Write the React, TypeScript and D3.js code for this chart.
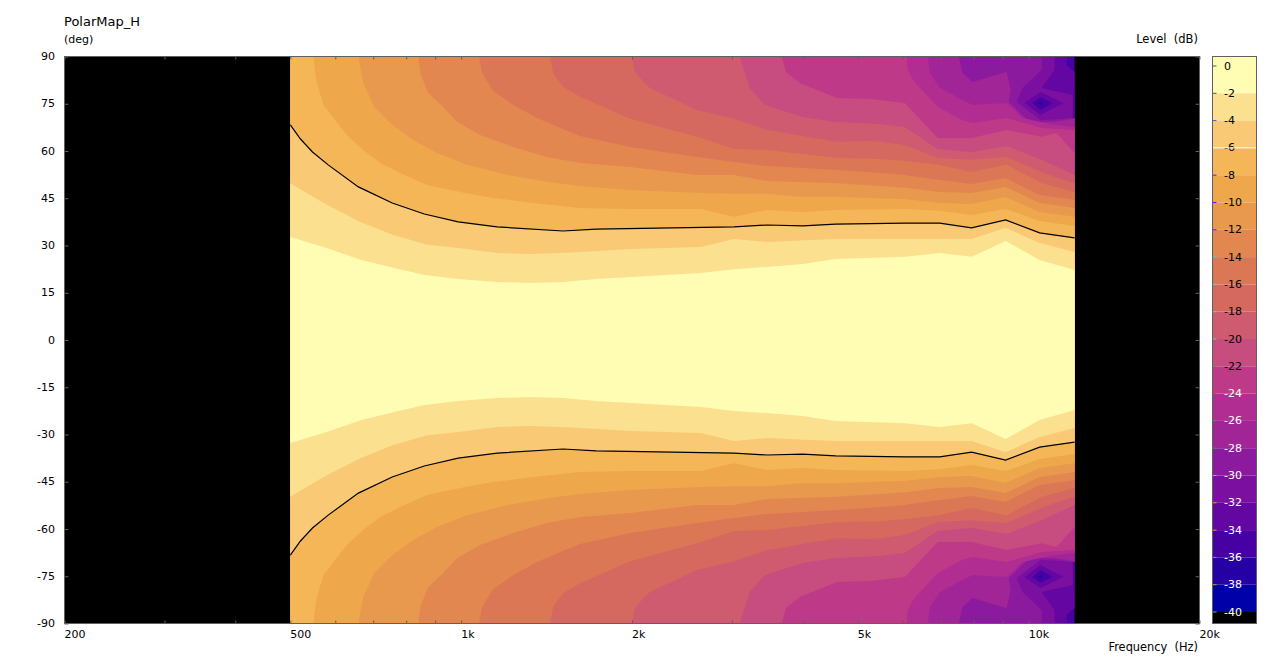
import { useEffect, useRef } from "react";
import * as d3 from "d3";

type Pt = [number, number];

// frequency (Hz), angle (deg) along each level line; the map is mirrored around 0 deg
const contour2: Pt[] = [[500, 32.7], [579, 29.2], [667, 25.4], [750, 23.2], [861, 20.6], [988, 19.4], [1157, 18.4], [1323, 18.1], [1512, 18.4], [1729, 19.4], [2000, 20.0], [2645, 21.3], [3024, 22.5], [3456, 23.2], [3999, 24.1], [4570, 25.7], [6048, 26.4], [6969, 27.6], [7934, 26.4], [9107, 31.4], [10453, 25.4], [12047, 22.2]];
const contour4: Pt[] = [[500, 49.8], [572, 43.5], [664, 37.5], [759, 33.3], [871, 30.2], [988, 29.2], [1157, 27.6], [1323, 27.3], [1512, 27.6], [2000, 28.9], [2645, 29.5], [3024, 32.1], [3456, 31.1], [4570, 32.1], [6048, 32.1], [6969, 32.1], [7934, 32.1], [9107, 35.6], [10453, 30.8], [12047, 27.9]];
const contour6: Pt[] = [[500, 68.3], [521, 63.8], [547, 59.7], [583, 55.6], [659, 48.6], [756, 43.5], [861, 40.0], [988, 37.5], [1157, 35.9], [1512, 34.6], [1729, 35.2], [3024, 35.9], [3456, 36.5], [3999, 36.2], [4570, 36.8], [6048, 37.1], [6969, 37.1], [7934, 35.6], [9107, 38.1], [10453, 34.0], [12047, 32.4]];
const contour8: Pt[] = [[549, 90], [555, 82.6], [572, 74.6], [605, 68.9], [633, 64.5], [672, 60.3], [720, 56.2], [781, 53.0], [871, 49.2], [996, 47.0], [1139, 45.1], [1339, 43.5], [1620, 41.9], [1984, 41.6], [2645, 41.6], [3024, 39.1], [3456, 41.3], [3999, 40.6], [4570, 41.3], [6048, 41.6], [6969, 41.0], [7934, 39.7], [9107, 41.6], [10453, 37.8], [12047, 36.2]];
const contour10: Pt[] = [[659, 90], [672, 81.6], [703, 74.0], [750, 68.9], [823, 63.5], [907, 59.4], [1025, 55.6], [1205, 52.4], [1416, 50.2], [1620, 48.9], [1984, 47.6], [2645, 46.7], [3024, 46.4], [3456, 46.4], [3999, 45.4], [4570, 45.4], [6048, 44.8], [6969, 43.5], [7934, 43.2], [9107, 45.4], [10453, 40.6], [12047, 39.1]];
const contour12: Pt[] = [[840, 90], [847, 84.8], [875, 78.4], [930, 74.0], [984, 69.2], [1080, 65.1], [1235, 61.3], [1416, 58.1], [1620, 56.2], [1984, 54.9], [2603, 52.4], [3024, 52.4], [3456, 50.5], [4590, 49.8], [5464, 48.9], [6048, 48.3], [6969, 47.0], [7934, 46.7], [9107, 48.6], [10453, 43.5], [12047, 41.9]];
const contour14: Pt[] = [[1075, 90], [1089, 84.8], [1134, 79.4], [1235, 74.6], [1360, 70.5], [1494, 67.3], [1620, 64.8], [1984, 61.3], [2603, 58.1], [3024, 56.5], [3456, 55.2], [4590, 54.0], [5464, 53.0], [6048, 52.4], [6969, 50.8], [7934, 49.5], [9107, 51.4], [9840, 48.3], [10453, 46.0], [12047, 44.5]];
const contour16: Pt[] = [[1434, 90], [1452, 84.8], [1512, 80.3], [1620, 77.2], [1984, 70.2], [2603, 64.5], [3024, 60.6], [3456, 60.3], [4590, 57.8], [5464, 57.5], [6048, 56.8], [6913, 55.6], [7934, 53.3], [9143, 55.6], [10540, 49.8], [12047, 47.0]];
const contour18: Pt[] = [[2000, 90], [2025, 84.8], [2151, 80.0], [2603, 73.0], [3024, 70.2], [3456, 66.7], [4590, 62.9], [5247, 63.2], [5464, 62.9], [6048, 61.9], [6913, 57.8], [7934, 57.2], [9143, 58.1], [10540, 53.3], [11240, 51.4], [12047, 49.8]];
const contour20: Pt[] = [[3098, 90], [3160, 84.8], [3226, 80.0], [3433, 74.6], [3999, 70.8], [4590, 69.2], [5464, 68.6], [6048, 67.6], [6913, 60.6], [7934, 59.7], [9143, 61.6], [10540, 57.2], [12047, 52.4]];
const contour22: Pt[] = [[3672, 90], [3736, 85.1], [3951, 81.6], [4590, 76.8], [5247, 76.5], [5464, 76.2], [6048, 75.2], [6913, 64.1], [7934, 64.1], [9143, 66.7], [10540, 64.5], [11200, 65.7], [12047, 59.4]];
const contour24: Pt[] = [[6095, 90], [6120, 85.7], [6290, 81.9], [6913, 74.0], [7650, 69.8], [7965, 68.9], [9143, 70.5], [10540, 67.3], [12047, 66.7]];
const contour26: Pt[] = [[6640, 90], [6692, 85.1], [6969, 80.0], [7650, 76.2], [7965, 74.6], [9143, 75.2], [9760, 70.5], [11020, 68.3], [12047, 67.6]];
const contour28: Pt[] = [[7526, 90], [7650, 84.8], [7965, 81.9], [9143, 85.1], [9300, 79.4], [9220, 75.6], [10038, 69.2], [11020, 69.2], [12047, 70.2]];
const contour30: Pt[] = [[10540, 90], [10540, 85.7], [9755, 80.0], [9525, 75.6], [10496, 69.8], [12047, 70.5]];
const contour32: Pt[] = [[11110, 90], [11110, 85.7], [10540, 80.0], [11950, 77.8], [11950, 70.5], [12047, 70.5]];
const contour34: Pt[] = [[11665, 90], [11665, 87.3], [12047, 85.1]];

// closed dips around 10.5 kHz / 75 deg
const dip32: Pt[] = [[9840, 75.2], [10496, 78.7], [11500, 75.2], [10496, 71.4]];
const dip34: Pt[] = [[10160, 75.2], [10496, 77.1], [11020, 75.2], [10496, 73.0]];
const dip36: Pt[] = [[10410, 75.2], [10496, 75.6], [10580, 75.2], [10496, 74.6]];

const contourLevels = [-34, -32, -30, -28, -26, -24, -22, -20, -18, -16, -14, -12, -10, -8, -6, -4, -2];
const contourLines = [contour34, contour32, contour30, contour28, contour26, contour24, contour22, contour20, contour18, contour16, contour14, contour12, contour10, contour8, contour6, contour4, contour2];

// colour of the band that starts at each level and runs 2 dB up
const bandLevels = [-2, -4, -6, -8, -10, -12, -14, -16, -18, -20, -22, -24, -26, -28, -30, -32, -34, -36, -38, -40];
const bandColors = ["#FFFDB3", "#FBE18F", "#F9C976", "#F4B657", "#EFA74B", "#E8994E", "#E38751", "#DC7755", "#D6695F", "#CE5B70", "#C74C7F", "#BE3A88", "#B12D92", "#A22598", "#8C1A9E", "#7A0FA0", "#6406A2", "#4700A3", "#2400A5", "#0000A8"];

const legendTicks = [0, -2, -4, -6, -8, -10, -12, -14, -16, -18, -20, -22, -24, -26, -28, -30, -32, -34, -36, -38, -40];
const legendTickColors = ["#555", "#555", "#3f5fe0", "#fff", "#6010f0", "#4020e0", "#5020f0", "#40d0c0", "#80c0c0", "#40e0c0", "#40d8c8", "#709030", "#20a050", "#30a040", "#20a040", "#f0a010", "#e0a020", "#f09010", "#90a010", "#a0a020", "#a0a0a0"];

const angleTicks = [90, 75, 60, 45, 30, 15, 0, -15, -30, -45, -60, -75, -90];
const freqTicks = [200, 300, 400, 500, 600, 700, 800, 900, 1000, 2000, 3000, 4000, 5000, 6000, 7000, 8000, 9000, 10000, 20000];
const freqLabels = [200, 500, 1000, 2000, 5000, 10000, 20000];

const FREQ_START = 500;
const FREQ_END = 12047;
const AXIS_GRAY = "#606060";
const FONT = "'DejaVu Sans', sans-serif";

function formatFreq(f: number): string {
  return f >= 1000 ? `${f / 1000}k` : String(f);
}

export default function App() {
  const svgRef = useRef<SVGSVGElement>(null);

  useEffect(() => {
    const svgEl = svgRef.current;
    if (!svgEl) return;
    const svg = d3.select(svgEl);
    svg.selectAll("*").remove();

    const left = 64.5;
    const right = 1199.5;
    const top = 56.5;
    const bottom = 623.5;

    const x = d3.scaleLog().domain([200, 20000]).range([left, right]);
    const y = d3.scaleLinear().domain([90, -90]).range([top, bottom]);
    const legendY = d3.scaleLinear().domain([0, -40]).range([66, 612]);
    const line = d3
      .line<Pt>()
      .x((d) => x(d[0]))
      .y((d) => y(d[1]));

    const bandColor = (level: number) => bandColors[bandLevels.indexOf(level)];

    // region at or above a level: the upper line, then the lower one walked back
    const region = (pts: Pt[]): Pt[] => {
      const upper: Pt[] = pts[0][1] === 90 ? [[FREQ_START, 90], ...pts] : pts;
      const lower = upper.map((d): Pt => [d[0], -d[1]]).reverse();
      return [...upper, ...lower];
    };

    svg
      .append("rect")
      .attr("x", left)
      .attr("y", top)
      .attr("width", right - left)
      .attr("height", bottom - top)
      .attr("fill", "#000");

    const map = svg.append("g");
    map
      .append("rect")
      .attr("x", x(FREQ_START))
      .attr("y", top)
      .attr("width", x(FREQ_END) - x(FREQ_START))
      .attr("height", bottom - top)
      .attr("fill", bandColor(-36));

    map
      .selectAll("path.band")
      .data(contourLines)
      .enter()
      .append("path")
      .attr("class", "band")
      .attr("d", (d) => line(region(d)) + "Z")
      .attr("fill", (_, i) => bandColor(contourLevels[i]));

    const dips: { pts: Pt[]; level: number }[] = [
      { pts: dip32, level: -34 },
      { pts: dip34, level: -36 },
      { pts: dip36, level: -38 },
    ];
    dips.forEach((dip) => {
      [1, -1].forEach((side) => {
        map
          .append("path")
          .attr("d", line(dip.pts.map((d): Pt => [d[0], side * d[1]])) + "Z")
          .attr("fill", bandColor(dip.level));
      });
    });

    // the -6 dB line is drawn in black on top
    [1, -1].forEach((side) => {
      map
        .append("path")
        .attr("d", line(contour6.map((d): Pt => [d[0], side * d[1]])))
        .attr("fill", "none")
        .attr("stroke", "#000")
        .attr("stroke-width", 1.2);
    });

    const styleAxis = (g: d3.Selection<SVGGElement, unknown, null, undefined>) => {
      g.selectAll(".domain").remove();
      g.selectAll("line").attr("stroke", AXIS_GRAY);
    };

    svg
      .append("g")
      .attr("transform", `translate(0,${bottom})`)
      .call(d3.axisBottom(x).tickValues(freqTicks).tickSize(-3).tickFormat(() => ""))
      .call(styleAxis);
    svg
      .append("g")
      .attr("transform", `translate(0,${top})`)
      .call(d3.axisTop(x).tickValues(freqTicks).tickSize(-3).tickFormat(() => ""))
      .call(styleAxis);
    svg
      .append("g")
      .attr("transform", `translate(${left},0)`)
      .call(d3.axisLeft(y).tickValues(angleTicks).tickSize(-4).tickFormat(() => ""))
      .call(styleAxis);
    svg
      .append("g")
      .attr("transform", `translate(${right},0)`)
      .call(d3.axisRight(y).tickValues(angleTicks).tickSize(-4).tickFormat(() => ""))
      .call(styleAxis);

    svg
      .append("rect")
      .attr("x", left)
      .attr("y", top)
      .attr("width", right - left)
      .attr("height", bottom - top)
      .attr("fill", "none")
      .attr("stroke", AXIS_GRAY)
      .attr("stroke-width", 1);

    const label = (
      text: string,
      tx: number,
      ty: number,
      anchor: string = "start",
      fill: string = "#000",
    ) =>
      svg
        .append("text")
        .attr("x", tx)
        .attr("y", ty)
        .attr("text-anchor", anchor)
        .attr("dominant-baseline", "central")
        .attr("font-family", FONT)
        .attr("font-size", 11)
        .attr("fill", fill)
        .text(text);

    angleTicks.forEach((a) => label(String(a), 55, y(a), "end"));
    freqLabels.forEach((f) => label(formatFreq(f), x(f), 634));

    label("PolarMap_H", 64, 21).attr("font-size", 13);
    label("(deg)", 64, 39);
    label("Level  (dB)", 1198, 39, "end").attr("font-size", 11.5).attr("xml:space", "preserve");
    label("Frequency  (Hz)", 1198, 647, "end").attr("font-size", 11.4).attr("xml:space", "preserve");

    // colour scale on the right
    const legendLeft = 1212.5;
    const legendRight = 1256.5;
    svg
      .append("g")
      .selectAll("rect")
      .data(bandLevels)
      .enter()
      .append("rect")
      .attr("x", legendLeft)
      .attr("width", legendRight - legendLeft)
      .attr("y", (d) => (d === -2 ? top : legendY(d + 2)))
      .attr("height", (d) => legendY(d) - (d === -2 ? top : legendY(d + 2)))
      .attr("fill", (d) => bandColor(d));
    svg
      .append("rect")
      .attr("x", legendLeft)
      .attr("width", legendRight - legendLeft)
      .attr("y", legendY(-40))
      .attr("height", bottom - legendY(-40))
      .attr("fill", "#000");

    legendTicks.forEach((t, i) => {
      label(String(t), 1224, legendY(t), "start", t <= -24 ? "#fff" : "#000");
      svg
        .append("line")
        .attr("x1", legendLeft)
        .attr("x2", t === -6 ? legendRight : legendLeft + 4)
        .attr("y1", legendY(t))
        .attr("y2", legendY(t))
        .attr("stroke", legendTickColors[i]);
    });

    svg
      .append("rect")
      .attr("x", legendLeft)
      .attr("y", top)
      .attr("width", legendRight - legendLeft)
      .attr("height", bottom - top)
      .attr("fill", "none")
      .attr("stroke", AXIS_GRAY);
  }, []);

  return (
    <svg
      ref={svgRef}
      width={1270}
      height={658}
      style={{ position: "absolute", left: 0, top: 0, background: "#fff" }}
    />
  );
}
